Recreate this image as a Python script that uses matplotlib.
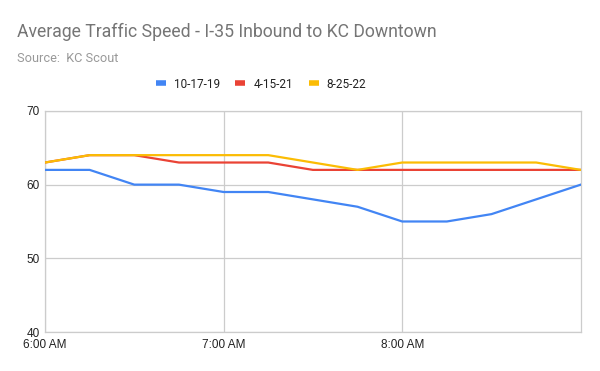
import numpy as np
import matplotlib.pyplot as plt
from matplotlib.lines import Line2D

plt.rcParams['font.family'] = ['Liberation Sans', 'DejaVu Sans']

# Time of day (15-minute samples) and average speeds (mph)
times = ['6:00', '6:15', '6:30', '6:45', '7:00', '7:15', '7:30',
         '7:45', '8:00', '8:15', '8:30', '8:45', '9:00']
speed_2019 = [62, 62, 60, 60, 59, 59, 58, 57, 55, 55, 56, 58, 60]
speed_2021 = [63, 64, 64, 63, 63, 63, 62, 62, 62, 62, 62, 62, 62]
speed_2022 = [63, 64, 64, 64, 64, 64, 63, 62, 63, 63, 63, 63, 62]
series_names = ['10-17-19', '4-15-21', '8-25-22']
colors = ['#4285f4', '#ea4335', '#fbbc04']

tick_hours = [6, 7, 8]
tick_labels = ['6:00 AM', '7:00 AM', '8:00 AM']
y_ticks = [40, 50, 60, 70]


def to_hours(t):
    h, m = t.split(':')
    return int(h) + int(m) / 60.0


x = np.array([to_hours(t) for t in times])

fig = plt.figure(figsize=(6, 3.71), dpi=100)
ax = fig.add_axes([0.075, 0.105, 0.893, 0.596])

for vals, c in zip([speed_2019, speed_2021, speed_2022], colors):
    ax.plot(x, vals, color=c, linewidth=1.6, solid_joinstyle='round', zorder=3)

ax.set_xlim(x[0], x[-1])
ax.set_ylim(40, 70)
ax.set_yticks(y_ticks)
ax.set_xticks(tick_hours)
ax.set_xticklabels(tick_labels)
ax.grid(True, color='#cccccc', linewidth=0.9)
ax.set_axisbelow(True)
for s in ax.spines.values():
    s.set_color('#cccccc')
    s.set_linewidth(0.9)
ax.tick_params(length=0, labelsize=8.5, colors='#222222')
ax.tick_params(axis='x', pad=5)
ax.tick_params(axis='y', pad=4)

fig.text(17 / 600, 1 - 32 / 371, 'Average Traffic Speed - I-35 Inbound to KC Downtown',
         fontsize=12.7, color='#757575', va='center', ha='left', family='Roboto')
fig.text(17 / 600, 1 - 58 / 371, 'Source:  KC Scout',
         fontsize=9.2, color='#999999', va='center', ha='left', family='Roboto')

handles = [Line2D([0], [0], color=c, linewidth=4, solid_capstyle='butt') for c in colors]
fig.legend(handles, series_names, loc='center', bbox_to_anchor=(261 / 600, 1 - 84 / 371),
           ncol=3, frameon=False, handlelength=0.85, handletextpad=0.7,
           columnspacing=1.3, labelcolor='#222222',
           prop={'family': 'Roboto', 'size': 8.5})

fig.savefig('out.png', dpi=100)
